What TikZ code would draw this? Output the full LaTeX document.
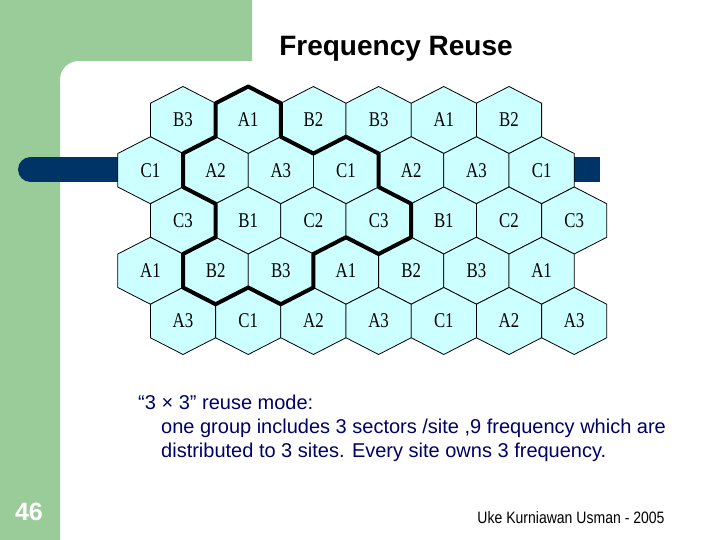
\documentclass[tikz,border=0pt]{standalone}
\usepackage{fontspec}
\setmainfont{Liberation Sans}
\newfontfamily\cellfont[FakeStretch=0.8]{Liberation Serif}
\newfontfamily\footfont[FakeStretch=0.85]{Liberation Sans}
\usetikzlibrary{calc}
\definecolor{slidegreen}{RGB}{153,204,153}
\definecolor{barblue}{RGB}{0,51,102}
\definecolor{cellcyan}{RGB}{204,255,255}
\definecolor{textnavy}{RGB}{0,0,102}

\begin{document}
\begin{tikzpicture}[x=1pt,y=-1pt,
    hexline/.style={draw=black,line width=0.8pt,fill=cellcyan},
    celllabel/.style={font=\cellfont\fontsize{21}{21}\selectfont,inner sep=0pt},
    reuse/.style={draw=black,line width=4pt,line join=round},
    bodytext/.style={anchor=base west,inner sep=0pt,text=textnavy,font=\fontsize{20}{20}\selectfont},
    hexcell/.pic={\path[hexline] (0,-33.5) -- (32.6,-16.75) -- (32.6,16.75) -- (0,33.5) -- (-32.6,16.75) -- (-32.6,-16.75) -- cycle;}]
\useasboundingbox (0,0) rectangle (720,540);

% slide frame
\fill[slidegreen] (0,0) rectangle (60,540) (0,0) rectangle (252,61) (60,61) rectangle (79,80);
\fill[white] (79,80) circle[radius=19];
\fill[barblue] (30.5,169.5) circle[radius=12.5];
\fill[barblue] (30.5,157) rectangle (600,182);

% cells
\foreach \row/\xs/\labs in {1/183/{B3,A1,B2,B3,A1,B2},
                            2/150.4/{C1,A2,A3,C1,A2,A3,C1},
                            3/183/{C3,B1,C2,C3,B1,C2,C3},
                            4/150.4/{A1,B2,B3,A1,B2,B3,A1},
                            5/183/{A3,C1,A2,A3,C1,A2,A3}}
  \foreach \lab [count=\k from 0] in \labs {
    \pic at ({\xs+65.2*\k},{120+50.25*(\row-1)}) {hexcell};
    \node[celllabel] (c\row-\k) at ({\xs+65.2*\k},{120+50.25*(\row-1)}) {\lab};
  }

% one 3x3 group
\draw[reuse] ($(c1-1)+(-32.6,-16.75)$) -- ++(32.6,-16.75) -- ++(32.6,16.75) -- ++(0,33.5)
  -- ++(32.6,16.75) -- ++(32.6,-16.75) -- ++(32.6,16.75) -- ++(0,33.5)
  -- ++(32.6,16.75) -- ++(0,33.5) -- ++(-32.6,16.75) -- ++(-32.6,-16.75)
  -- ++(-32.6,16.75) -- ++(0,33.5) -- ++(-32.6,16.75) -- ++(-32.6,-16.75)
  -- ++(-32.6,16.75) -- ++(-32.6,-16.75) -- ++(0,-33.5) -- ++(32.6,-16.75)
  -- ++(0,-33.5) -- ++(-32.6,-16.75) -- ++(0,-33.5) -- ++(32.6,-16.75) -- cycle;

% texts
\node[anchor=base,font=\bfseries\fontsize{28}{28}\selectfont] (title) at (396,56) {Frequency Reuse};
\node[bodytext] (mode) at (138,409) {“3 × 3” reuse mode:};
\node[bodytext] (group) at (161,433) {one group includes 3 sectors /site ,9 frequency which are};
\node[bodytext] (sites) at (161,457) {distributed to 3 sites. Every site owns 3 frequency.};
\node[anchor=base,text=white,font=\bfseries\fontsize{25}{25}\selectfont] (page) at (29,520) {46};
\node[anchor=base,font=\footfont\fontsize{16.5}{16.5}\selectfont] (author) at (571,523.5) {Uke Kurniawan Usman - 2005};
\end{tikzpicture}
\end{document}
